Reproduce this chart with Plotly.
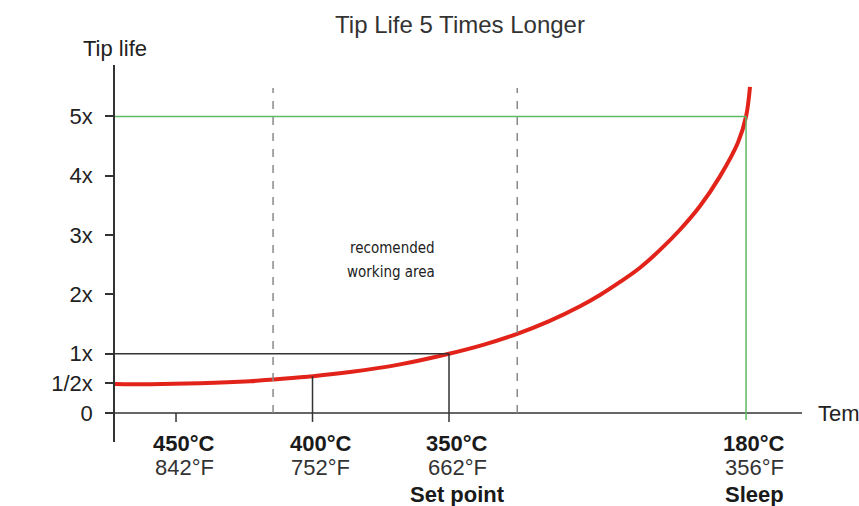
import numpy as np
import plotly.graph_objects as go

# ---------------- data ----------------
# x is a position along the (non-linear) temperature axis: 450°C=1, 400°C=2, 350°C=3
curve_pos = [0.553, 0.81, 1.176, 1.542, 1.711, 2.004, 2.275, 2.641, 3.0, 3.25,
             3.5, 3.73, 3.96, 4.106, 4.253, 4.399, 4.546, 4.692, 4.839, 4.985,
             5.117, 5.176, 5.205]
curve_life = [0.49, 0.485, 0.50, 0.535, 0.565, 0.62, 0.69, 0.82, 1.0, 1.15,
              1.336, 1.545, 1.80, 1.99, 2.21, 2.45, 2.75, 3.09, 3.49, 3.99,
              4.56, 5.0, 5.5]

temp_pos = [1, 2, 3, 5.176]
temp_c = ["450°C", "400°C", "350°C", "180°C"]
temp_f = ["842°F", "752°F", "662°F", "356°F"]
temp_note = ["", "", "Set point", "Sleep"]

life_ticks = [0, 0.5, 1, 2, 3, 4, 5]
life_labels = ["0", "1/2x", "1x", "2x", "3x", "4x", "5x"]

work_area = [1.711, 3.5]          # dashed bounds of recommended working area
set_point_life = 1
sleep_life = 5

# ---------------- layout constants ----------------
X_RANGE = [0.553, 5.586]
Y_RANGE = [-0.489, 5.868]
DARK = "#333333"
GREEN = "#5dbb63"
RED = "#e2231a"
FONT = "Liberation Sans, Arial, Helvetica, sans-serif"
TICK_DOWN = -0.15

fig = go.Figure()
fig.add_trace(go.Scatter(x=curve_pos, y=curve_life, mode="lines",
                         line=dict(color=RED, width=4, shape="spline", smoothing=1.0),
                         hoverinfo="skip", showlegend=False))

shapes = []
# x axis line
shapes.append(dict(type="line", xref="x", yref="y", x0=X_RANGE[0], x1=X_RANGE[1],
                   y0=0, y1=0, line=dict(color=DARK, width=1.5)))
# dashed working area bounds
for xp in work_area:
    shapes.append(dict(type="line", xref="x", yref="y", x0=xp, x1=xp, y0=0, y1=5.48,
                       line=dict(color="#8a8a8a", width=1.5, dash="8px,8px")))
# set point guide (1x)
shapes.append(dict(type="line", xref="x", yref="y", x0=X_RANGE[0], x1=temp_pos[2],
                   y0=set_point_life, y1=set_point_life, line=dict(color=DARK, width=1.5)))
shapes.append(dict(type="line", xref="x", yref="y", x0=temp_pos[2], x1=temp_pos[2],
                   y0=TICK_DOWN, y1=set_point_life, line=dict(color=DARK, width=1.5)))
# 400°C guide up to the curve
life_400 = float(np.interp(temp_pos[1], curve_pos, curve_life))
shapes.append(dict(type="line", xref="x", yref="y", x0=temp_pos[1], x1=temp_pos[1],
                   y0=TICK_DOWN, y1=life_400, line=dict(color=DARK, width=1.5)))
# 450°C tick
shapes.append(dict(type="line", xref="x", yref="y", x0=temp_pos[0], x1=temp_pos[0],
                   y0=TICK_DOWN, y1=0, line=dict(color=DARK, width=1.5)))
# sleep guides (5x), green
shapes.append(dict(type="line", xref="x", yref="y", x0=X_RANGE[0], x1=temp_pos[3],
                   y0=sleep_life, y1=sleep_life, line=dict(color=GREEN, width=1.5)))
shapes.append(dict(type="line", xref="x", yref="y", x0=temp_pos[3], x1=temp_pos[3],
                   y0=TICK_DOWN * 0.8, y1=sleep_life, line=dict(color=GREEN, width=1.5)))

annotations = []
for xp, c, f, n in zip(temp_pos, temp_c, temp_f, temp_note):
    annotations.append(dict(x=xp, xref="x", y=0, yref="paper", yanchor="middle",
                            xanchor="center", xshift=8, yshift=-1, showarrow=False,
                            text="<b>%s</b>" % c, font=dict(size=22, color="#1a1a1a", family=FONT)))
    annotations.append(dict(x=xp, xref="x", y=0, yref="paper", yanchor="middle",
                            xanchor="center", xshift=8, yshift=-25, showarrow=False,
                            text=f, font=dict(size=22, color="#333333", family=FONT)))
    if n:
        annotations.append(dict(x=xp, xref="x", y=0, yref="paper", yanchor="middle",
                                xanchor="center", xshift=8, yshift=-52, showarrow=False,
                                text="<b>%s</b>" % n, font=dict(size=22, color="#1a1a1a", family=FONT)))

# axis titles
annotations.append(dict(x=0, xref="paper", y=1, yref="paper", yanchor="middle",
                        xanchor="center", yshift=17, showarrow=False, text="Tip life",
                        font=dict(size=22, color="#222222", family=FONT)))
annotations.append(dict(x=1, xref="paper", y=0, yref="y", yanchor="middle",
                        xanchor="left", xshift=14, showarrow=False, text="Temperature",
                        font=dict(size=22, color="#222222", family=FONT)))
# working area text
mid = (work_area[0] + work_area[1]) / 2
NARROW = "Liberation Sans Narrow, DejaVu Sans Condensed, Arial Narrow, sans-serif"
annotations.append(dict(x=mid, xref="x", y=2.58, yref="y", yanchor="middle",
                        xanchor="center", xshift=-3, yshift=12, showarrow=False, text="recomended",
                        font=dict(size=15, color="#222222", family=NARROW)))
annotations.append(dict(x=mid, xref="x", y=2.58, yref="y", yanchor="middle",
                        xanchor="center", xshift=-4, yshift=-12, showarrow=False, text="working area",
                        font=dict(size=15, color="#222222", family=NARROW)))

fig.update_layout(
    width=859, height=506,
    margin=dict(l=115, r=57, t=65, b=64),
    paper_bgcolor="white", plot_bgcolor="white",
    title=dict(text="Tip Life 5 Times Longer", x=460 / 859, xanchor="center",
               y=1 - 25 / 506, yanchor="middle",
               font=dict(size=24, color="#333333", family=FONT)),
    xaxis=dict(visible=False, range=X_RANGE, fixedrange=True),
    yaxis=dict(range=Y_RANGE, showline=True, linecolor=DARK, linewidth=1.5,
               showgrid=False, zeroline=False, ticks="outside", ticklen=8,
               tickcolor=DARK, tickwidth=1.5, tickvals=life_ticks, ticktext=life_labels,
               ticklabelstandoff=8,
               tickfont=dict(size=22, color="#222222", family=FONT), fixedrange=True),
    shapes=shapes, annotations=annotations, showlegend=False,
)

fig.write_html("out.html", config={"displayModeBar": False},
               post_script="document.body.style.margin='0px';document.body.style.overflow='hidden';")
